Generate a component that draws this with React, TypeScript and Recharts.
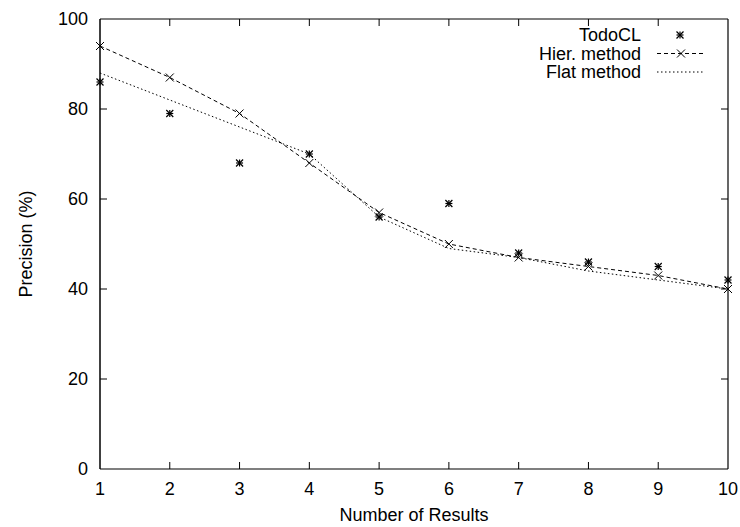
import React from "react"
import { LineChart, Line, XAxis, YAxis } from "recharts"

const results = [1, 2, 3, 4, 5, 6, 7, 8, 9, 10]
const todoCL = [86, 79, 68, 70, 56, 59, 48, 46, 45, 42]
const hier = [94, 87, 79, 68, 57, 50, 47, 45, 43, 40]
const flat = [88, 82, 76, 70, 56, 49, 47, 44, 42, 40]
const yTicks = [0, 20, 40, 60, 80, 100]
const seriesNames = ["TodoCL", "Hier. method", "Flat method"]

const data = results.map((x, i) => ({ x, todo: todoCL[i], hier: hier[i], flat: flat[i] }))

const FONT = "'Liberation Sans', Arial, Helvetica, sans-serif"
const W = 740
const H = 527
const MARGIN = { top: 19, right: 12, bottom: 0, left: 0 }
const Y_AXIS_W = 100
const X_AXIS_H = 58
const TICK = 7

const xMin = results[0]
const xMax = results[results.length - 1]
const yMin = yTicks[0]
const yMax = yTicks[yTicks.length - 1]

// plot box, from the same layout numbers the chart uses
const box = {
  left: MARGIN.left + Y_AXIS_W,
  right: W - MARGIN.right,
  top: MARGIN.top,
  bottom: H - MARGIN.bottom - X_AXIS_H,
}
const tickX = (k: number) => box.left + ((k - xMin) / (xMax - xMin)) * (box.right - box.left)
const tickY = (v: number) => box.bottom - ((v - yMin) / (yMax - yMin)) * (box.bottom - box.top)

const Star = ({ cx, cy, r = 3.5 }: any) => {
  if (cx == null || cy == null) return null
  return (
    <g stroke="#000" strokeWidth={1.2}>
      <line x1={cx - r} y1={cy} x2={cx + r} y2={cy} />
      <line x1={cx} y1={cy - r} x2={cx} y2={cy + r} />
      <line x1={cx - r} y1={cy - r} x2={cx + r} y2={cy + r} />
      <line x1={cx - r} y1={cy + r} x2={cx + r} y2={cy - r} />
    </g>
  )
}

const Cross = ({ cx, cy, r = 4 }: any) => {
  if (cx == null || cy == null) return null
  return (
    <g stroke="#000" strokeWidth={1}>
      <line x1={cx - r} y1={cy - r} x2={cx + r} y2={cy + r} />
      <line x1={cx - r} y1={cy + r} x2={cx + r} y2={cy - r} />
    </g>
  )
}

const BottomTick = ({ x, y, payload }: any) => (
  <text x={x} y={y + 26} textAnchor="middle" fontSize={18} fontFamily={FONT} fill="#000">
    {payload.value}
  </text>
)

const LeftTick = ({ x, y, payload }: any) => (
  <text x={x - 12} y={y + 6} textAnchor="end" fontSize={18} fontFamily={FONT} fill="#000">
    {payload.value}
  </text>
)

// frame, inward ticks and the key, drawn over the chart
const Overlay = () => (
  <svg width={W} height={H} style={{ position: "absolute", left: 0, top: 0, pointerEvents: "none" }}>
    <g stroke="#000" strokeWidth={1.2} fill="none">
      <line x1={box.left} y1={box.top} x2={box.right} y2={box.top} />
      <line x1={box.right} y1={box.top} x2={box.right} y2={box.bottom} />
    </g>
    <g stroke="#000" strokeWidth={1}>
      {results.slice(1, -1).map((k) => (
        <g key={`x${k}`}>
          <line x1={tickX(k)} y1={box.bottom} x2={tickX(k)} y2={box.bottom - TICK} />
          <line x1={tickX(k)} y1={box.top} x2={tickX(k)} y2={box.top + TICK} />
        </g>
      ))}
      {yTicks.slice(1, -1).map((v) => (
        <g key={`y${v}`}>
          <line x1={box.left} y1={tickY(v)} x2={box.left + TICK} y2={tickY(v)} />
          <line x1={box.right} y1={tickY(v)} x2={box.right - TICK} y2={tickY(v)} />
        </g>
      ))}
    </g>
    {seriesNames.map((name, i) => {
      const cy = 35 + i * 18.5
      return (
        <g key={name}>
          <text x={641} y={cy + 6} textAnchor="end" fontSize={18} fontFamily={FONT} fill="#000">
            {name}
          </text>
          {i === 0 && <Star cx={680} cy={cy} />}
          {i === 1 && (
            <g>
              <line x1={657} y1={cy} x2={705} y2={cy} stroke="#000" strokeDasharray="4 3" />
              <Cross cx={681} cy={cy} />
            </g>
          )}
          {i === 2 && <line x1={657} y1={cy} x2={705} y2={cy} stroke="#000" strokeDasharray="1.5 2.5" />}
        </g>
      )
    })}
  </svg>
)

export default function App() {
  return (
    <div style={{ position: "absolute", left: 0, top: 0, width: W, height: H, background: "#fff" }}>
      <LineChart width={W} height={H} data={data} margin={MARGIN}>
        <XAxis
          dataKey="x"
          type="number"
          domain={[xMin, xMax]}
          ticks={results}
          height={X_AXIS_H}
          tickSize={0}
          tickMargin={0}
          tickLine={false}
          axisLine={{ stroke: "#000", strokeWidth: 1.2 }}
          tick={<BottomTick />}
          label={({ viewBox }: any) => (
            <text
              x={viewBox.x + viewBox.width / 2}
              y={viewBox.y + 52}
              textAnchor="middle"
              fontSize={18}
              fontFamily={FONT}
              fill="#000"
            >
              Number of Results
            </text>
          )}
        />
        <YAxis
          domain={[yMin, yMax]}
          ticks={yTicks}
          width={Y_AXIS_W}
          tickSize={0}
          tickMargin={0}
          tickLine={false}
          axisLine={{ stroke: "#000", strokeWidth: 1.5 }}
          tick={<LeftTick />}
          label={({ viewBox }: any) => (
            <text
              transform={`translate(${viewBox.x + 32}, ${viewBox.y + viewBox.height / 2}) rotate(-90)`}
              textAnchor="middle"
              fontSize={18}
              fontFamily={FONT}
              fill="#000"
            >
              Precision (%)
            </text>
          )}
        />
        <Line
          dataKey="hier"
          type="linear"
          stroke="#000"
          strokeWidth={1}
          strokeDasharray="4 3"
          dot={(p: any) => <Cross key={`h${p.index}`} cx={p.cx} cy={p.cy} />}
          isAnimationActive={false}
        />
        <Line
          dataKey="flat"
          type="linear"
          stroke="#000"
          strokeWidth={1}
          strokeDasharray="1.5 2.5"
          dot={false}
          isAnimationActive={false}
        />
        <Line
          dataKey="todo"
          type="linear"
          stroke="none"
          dot={(p: any) => <Star key={`t${p.index}`} cx={p.cx} cy={p.cy} />}
          activeDot={false}
          isAnimationActive={false}
        />
      </LineChart>
      <Overlay />
    </div>
  )
}
